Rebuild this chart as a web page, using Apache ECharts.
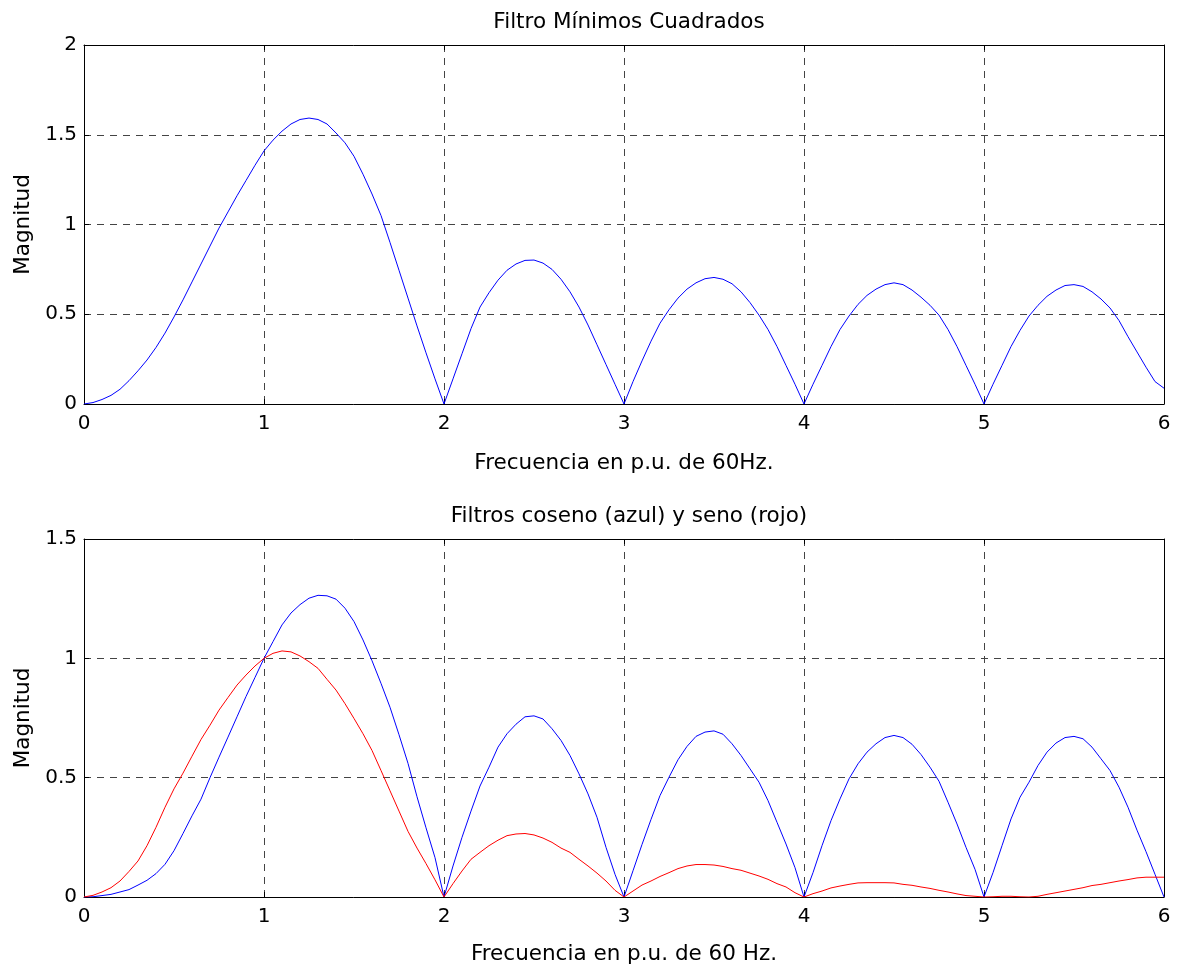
<!DOCTYPE html>
<html>
<head>
<meta charset="utf-8">
<title>Filtros</title>
<script src="https://cdn.jsdelivr.net/npm/echarts@6/dist/echarts.min.js"></script>
<style>
  html, body { margin: 0; padding: 0; background: #ffffff; }
  #chart { width: 1185px; height: 970px; }
</style>
</head>
<body>
<div id="chart"></div>
<script>
// Frequency samples (p.u. of 60 Hz)
const freq = [
  0.00, 0.05, 0.10, 0.15, 0.20, 0.25, 0.30, 0.35, 0.40, 0.45,
  0.50, 0.55, 0.60, 0.65, 0.70, 0.75, 0.80, 0.85, 0.90, 0.95,
  1.00, 1.05, 1.10, 1.15, 1.20, 1.25, 1.30, 1.35, 1.40, 1.45,
  1.50, 1.55, 1.60, 1.65, 1.70, 1.75, 1.80, 1.85, 1.90, 1.95,
  2.00, 2.05, 2.10, 2.15, 2.20, 2.25, 2.30, 2.35, 2.40, 2.45,
  2.50, 2.55, 2.60, 2.65, 2.70, 2.75, 2.80, 2.85, 2.90, 2.95,
  3.00, 3.05, 3.10, 3.15, 3.20, 3.25, 3.30, 3.35, 3.40, 3.45,
  3.50, 3.55, 3.60, 3.65, 3.70, 3.75, 3.80, 3.85, 3.90, 3.95,
  4.00, 4.05, 4.10, 4.15, 4.20, 4.25, 4.30, 4.35, 4.40, 4.45,
  4.50, 4.55, 4.60, 4.65, 4.70, 4.75, 4.80, 4.85, 4.90, 4.95,
  5.00, 5.05, 5.10, 5.15, 5.20, 5.25, 5.30, 5.35, 5.40, 5.45,
  5.50, 5.55, 5.60, 5.65, 5.70, 5.75, 5.80, 5.85, 5.90, 5.95,
  6.00
];

// Least-squares filter magnitude
const lsMag = [
  0, 0.008, 0.025, 0.048, 0.082, 0.13, 0.185, 0.245, 0.315, 0.395,
  0.485, 0.58, 0.68, 0.78, 0.88, 0.98, 1.07, 1.16, 1.245, 1.33,
  1.41, 1.47, 1.52, 1.56, 1.585, 1.593, 1.585, 1.56, 1.51, 1.455,
  1.38, 1.28, 1.17, 1.05, 0.90, 0.745, 0.59, 0.435, 0.285, 0.14,
  0,
  0.14, 0.28, 0.42, 0.54, 0.62, 0.69, 0.745, 0.78, 0.80, 0.802,
  0.785, 0.75, 0.695, 0.625, 0.54, 0.44, 0.33, 0.22, 0.11, 0,
  0.125, 0.24, 0.35, 0.45, 0.525, 0.59, 0.64, 0.675, 0.698, 0.705,
  0.695, 0.67, 0.625, 0.565, 0.495, 0.415, 0.32, 0.215, 0.11, 0,
  0.11, 0.215, 0.32, 0.415, 0.49, 0.555, 0.605, 0.64, 0.665, 0.675,
  0.665, 0.635, 0.595, 0.55, 0.495, 0.415, 0.32, 0.215, 0.11, 0,
  0.11, 0.215, 0.32, 0.41, 0.49, 0.55, 0.60, 0.635, 0.66, 0.665,
  0.655, 0.625, 0.585, 0.535, 0.465, 0.375, 0.29, 0.205, 0.125, 0.088
];

// Cosine filter magnitude (blue)
const cosMag = [
  0, 0.001, 0.006, 0.011, 0.021, 0.031, 0.05, 0.07, 0.098, 0.137,
  0.194, 0.266, 0.34, 0.41, 0.50, 0.586, 0.67, 0.755, 0.84, 0.92,
  1.0, 1.07, 1.14, 1.19, 1.225, 1.252, 1.264, 1.262, 1.248, 1.21,
  1.154, 1.077, 0.99, 0.895, 0.795, 0.68, 0.56, 0.42, 0.29, 0.165,
  0,
  0.13, 0.25, 0.36, 0.465, 0.544, 0.628, 0.684, 0.724, 0.755, 0.759,
  0.746, 0.705, 0.656, 0.593, 0.516, 0.432, 0.334, 0.208, 0.095, 0,
  0.11, 0.22, 0.325, 0.425, 0.502, 0.575, 0.631, 0.673, 0.691, 0.696,
  0.682, 0.642, 0.593, 0.537, 0.481, 0.404, 0.313, 0.222, 0.123, 0,
  0.102, 0.215, 0.32, 0.411, 0.495, 0.558, 0.607, 0.642, 0.668, 0.677,
  0.668, 0.64, 0.597, 0.544, 0.485, 0.397, 0.306, 0.208, 0.116, 0,
  0.102, 0.215, 0.327, 0.418, 0.481, 0.551, 0.607, 0.645, 0.668, 0.673,
  0.663, 0.628, 0.579, 0.53, 0.46, 0.376, 0.28, 0.19, 0.095, 0
];

// Sine filter magnitude (red)
const senMag = [
  0, 0.007, 0.021, 0.039, 0.067, 0.107, 0.151, 0.215, 0.292, 0.376,
  0.453, 0.519, 0.59, 0.66, 0.72, 0.783, 0.836, 0.888, 0.93, 0.968,
  1.0, 1.021, 1.031, 1.027, 1.01, 0.986, 0.958, 0.912, 0.867, 0.81,
  0.748, 0.684, 0.614, 0.53, 0.445, 0.36, 0.275, 0.205, 0.14, 0.072,
  0,
  0.056, 0.109, 0.158, 0.187, 0.215, 0.238, 0.257, 0.264, 0.266, 0.26,
  0.247, 0.229, 0.205, 0.187, 0.158, 0.13, 0.1, 0.067, 0.028, 0,
  0.025, 0.05, 0.067, 0.086, 0.102, 0.119, 0.13, 0.136, 0.136, 0.134,
  0.128, 0.119, 0.112, 0.1, 0.088, 0.074, 0.056, 0.042, 0.018, 0,
  0.014, 0.025, 0.038, 0.046, 0.053, 0.059, 0.06, 0.06, 0.06, 0.059,
  0.053, 0.049, 0.042, 0.036, 0.028, 0.021, 0.013, 0.006, 0.003, 0,
  0.001, 0.003, 0.003, 0.001, 0, 0.003, 0.011, 0.018, 0.025, 0.032,
  0.039, 0.048, 0.053, 0.06, 0.067, 0.073, 0.08, 0.083, 0.083, 0.083
];

const titles = ['Filtro Mínimos Cuadrados', 'Filtros coseno (azul) y seno (rojo)'];
const xNames = ['Frecuencia en p.u. de 60Hz.', 'Frecuencia en p.u. de 60 Hz.'];
const yName = 'Magnitud';
const yMax = [2, 1.5];

const FONT = 'DejaVu Sans';
const FS = 20;      // tick labels
const FS_T = 21.5;  // titles and axis names

const pairs = (ys) => freq.map((f, i) => [f, ys[i]]);

const gridLine = { show: true, lineStyle: { color: '#444', type: [7, 6], width: 1 } };
const tick = { show: true, inside: true, length: 5, lineStyle: { color: '#000' } };
const line = { show: true, onZero: false, lineStyle: { color: '#000', width: 1 } };
const label = { color: '#000', fontFamily: FONT, fontSize: FS };
const nameStyle = { color: '#000', fontFamily: FONT, fontSize: FS_T };

const grids = [
  { left: 84, top: 45, width: 1080, height: 359 },
  { left: 84, top: 539, width: 1080, height: 358 }
];

const xAxes = [];
const yAxes = [];
[0, 1].forEach((g) => {
  xAxes.push({
    type: 'value', gridIndex: g, position: 'bottom', min: 0, max: 6, interval: 1,
    name: xNames[g], nameLocation: 'middle', nameGap: g === 0 ? 48 : 46,
    nameTextStyle: nameStyle,
    axisLine: line, axisTick: tick, splitLine: gridLine,
    axisLabel: Object.assign({ margin: 10 }, label)
  });
  xAxes.push({
    type: 'value', gridIndex: g, position: 'top', min: 0, max: 6, interval: 1,
    axisLine: line, axisTick: tick, splitLine: { show: false }, axisLabel: { show: false }
  });
  yAxes.push({
    type: 'value', gridIndex: g, position: 'left', min: 0, max: yMax[g], interval: 0.5,
    name: yName, nameLocation: 'middle', nameGap: 50,
    nameTextStyle: nameStyle,
    axisLine: line, axisTick: tick, splitLine: gridLine,
    axisLabel: Object.assign({ margin: 7 }, label)
  });
  yAxes.push({
    type: 'value', gridIndex: g, position: 'right', min: 0, max: yMax[g], interval: 0.5,
    axisLine: line, axisTick: tick, splitLine: { show: false }, axisLabel: { show: false }
  });
});

const chart = echarts.init(document.getElementById('chart'), null, { renderer: 'canvas' });
chart.setOption({
  backgroundColor: '#ffffff',
  animation: false,
  title: [
    { text: titles[0], left: 624, top: 6, textAlign: 'center',
      textStyle: { color: '#000', fontFamily: FONT, fontSize: FS_T, fontWeight: 'normal' } },
    { text: titles[1], left: 624, top: 500, textAlign: 'center',
      textStyle: { color: '#000', fontFamily: FONT, fontSize: FS_T, fontWeight: 'normal' } }
  ],
  grid: grids,
  xAxis: xAxes,
  yAxis: yAxes,
  series: [
    { type: 'line', xAxisIndex: 0, yAxisIndex: 0, data: pairs(lsMag), showSymbol: false,
      lineStyle: { color: '#0000ff', width: 1 }, itemStyle: { color: '#0000ff' } },
    { type: 'line', xAxisIndex: 2, yAxisIndex: 2, data: pairs(cosMag), showSymbol: false,
      lineStyle: { color: '#0000ff', width: 1 }, itemStyle: { color: '#0000ff' } },
    { type: 'line', xAxisIndex: 2, yAxisIndex: 2, data: pairs(senMag), showSymbol: false,
      lineStyle: { color: '#ff0000', width: 1 }, itemStyle: { color: '#ff0000' } }
  ]
});
</script>
</body>
</html>
